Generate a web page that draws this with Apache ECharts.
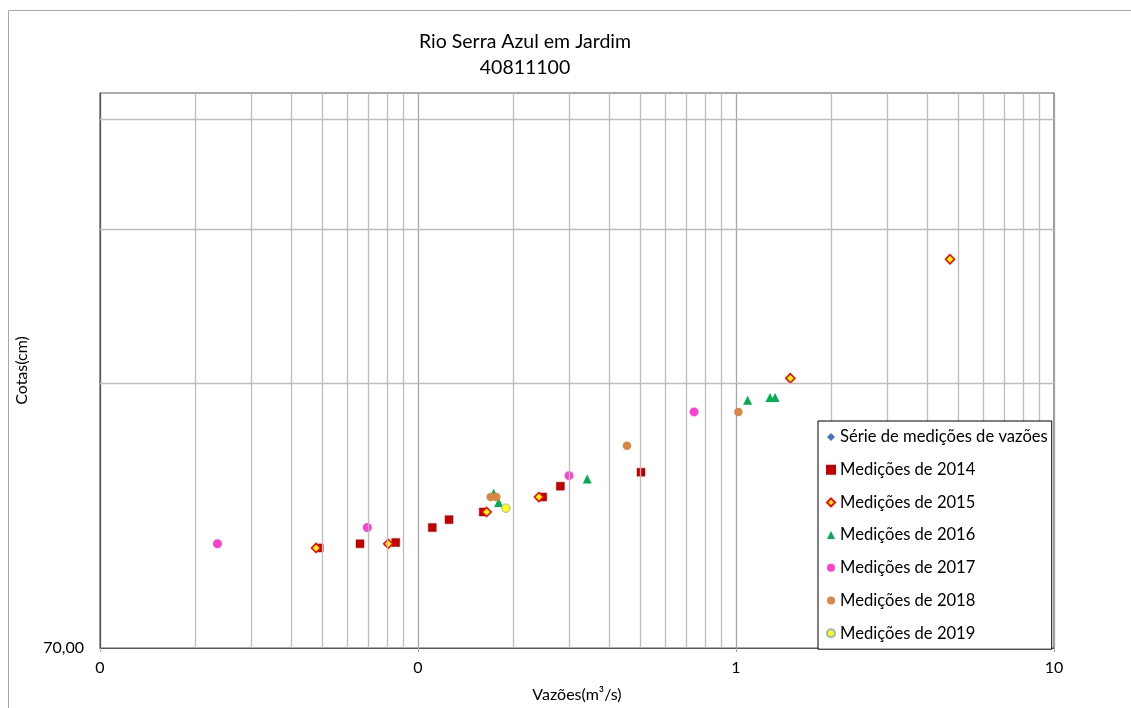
<!DOCTYPE html>
<html>
<head>
<meta charset="utf-8">
<script src="https://cdn.jsdelivr.net/npm/echarts@6/dist/echarts.min.js"></script>
<style>html,body{margin:0;padding:0;background:#fff;overflow:hidden;}#c{width:1131px;height:708px;}</style>
</head>
<body>
<div id="c"></div>
<script>
const titleLines = ['Rio Serra Azul em Jardim', '40811100'];
const xName = 'Vazões(m³/s)';
const yName = 'Cotas(cm)';
const xMin = 0.01, xMax = 10;
const yMin = 70, yMax = 300;
const xMinorGrid = [0.02,0.03,0.04,0.05,0.06,0.07,0.08,0.09,0.2,0.3,0.4,0.5,0.6,0.7,0.8,0.9,2,3,4,5,6,7,8,9];
const yGrid = [140, 210, 280];

const seriesNames = ['Série de medições de vazões','Medições de 2014','Medições de 2015','Medições de 2016','Medições de 2017','Medições de 2018','Medições de 2019'];
const sSerie = [];
const s2014 = [[0.0489,91],[0.0657,92],[0.0851,92.3],[0.1109,96],[0.1252,98],[0.1604,100],[0.2467,104],[0.2803,107],[0.5027,111]];
const s2015 = [[0.0478,91],[0.0806,92],[0.1644,100],[0.240,104],[1.482,142],[4.71,194]];
const s2016 = [[0.173,105],[0.1794,102.5],[0.3406,109],[1.088,134],[1.279,135],[1.327,135]];
const s2017 = [[0.0234,92],[0.0693,96],[0.2985,110],[0.738,130]];
const s2018 = [[0.1693,104],[0.1763,104],[0.4542,119],[1.017,130]];
const s2019 = [[0.189,101]];

const FONT = 'Lato, "Noto Sans", sans-serif';
const chart = echarts.init(document.getElementById('c'), null, {renderer: 'canvas'});

function sc(name, data, symbol, size, color, border, bw) {
  return {
    name: name, type: 'scatter', data: data, symbol: symbol, symbolSize: size,
    itemStyle: {color: color, borderColor: border || color, borderWidth: bw || 0, opacity: 1},
    emphasis: {disabled: true}, z: 3
  };
}

const gridLineStyle = {color: '#bdbdbd', width: 1.3, type: 'solid'};

const option = {
  animation: false,
  backgroundColor: '#fff',
  textStyle: {fontFamily: FONT},
  graphic: [
    {type: 'rect', shape: {x: 8.5, y: 10.5, width: 1300, height: 900}, style: {fill: 'none', stroke: '#a6a6a6', lineWidth: 1}, z: -10, silent: true},
    {type: 'text', x: 525, y: 42, style: {text: titleLines[0], font: '19.5px ' + FONT, fill: '#000', align: 'center', verticalAlign: 'middle'}},
    {type: 'text', x: 525, y: 68, style: {text: titleLines[1], font: '19.5px ' + FONT, fill: '#000', align: 'center', verticalAlign: 'middle'}}
  ],
  grid: {left: 100, top: 93, right: 77, bottom: 58, show: true, borderColor: '#595959', borderWidth: 1.2, backgroundColor: 'transparent'},
  legend: {
    orient: 'vertical', left: 818, top: 421, z: 20,
    data: seriesNames,
    itemWidth: 8, itemHeight: 8, itemGap: 14.7,
    padding: [7, 4, 7, 8],
    borderColor: '#000', borderWidth: 1, backgroundColor: '#fff',
    textStyle: {fontFamily: FONT, fontSize: 16.6, color: '#000', lineHeight: 18},
    selectedMode: false
  },
  xAxis: {
    type: 'log', logBase: 10, min: xMin, max: xMax,
    name: xName, nameLocation: 'middle', nameGap: 39,
    nameTextStyle: {fontFamily: FONT, fontSize: 16, color: '#000'},
    axisLine: {show: true, lineStyle: {color: '#595959', width: 1.2}},
    axisTick: {show: true, length: 4, lineStyle: {color: '#a6a6a6'}},
    axisLabel: {fontFamily: FONT, fontSize: 16, color: '#000', margin: 12, formatter: v => String(Math.round(v))},
    splitLine: {show: true, lineStyle: {color: '#a6a6a6', width: 1.3}},
    minorTick: {show: false}, minorSplitLine: {show: false}
  },
  yAxis: {
    type: 'log', logBase: 10, min: yMin, max: yMax,
    name: yName, nameLocation: 'middle', nameGap: 70,
    nameTextStyle: {fontFamily: FONT, fontSize: 16, color: '#000'},
    axisLine: {show: true, lineStyle: {color: '#595959', width: 1.2}},
    axisTick: {show: false},
    axisLabel: {fontFamily: FONT, fontSize: 16, color: '#000', margin: 16, formatter: v => (Math.abs(v - yMin) < 0.01 ? '70,00' : ''), showMinLabel: true},
    splitLine: {show: false}
  },
  series: [
    {
      name: '_grid', type: 'scatter', data: [], silent: true, z: 1,
      markLine: {
        silent: true, symbol: 'none', animation: false,
        label: {show: false}, lineStyle: gridLineStyle, emphasis: {disabled: true},
        data: xMinorGrid.map(v => ({xAxis: v})).concat(yGrid.map(v => ({yAxis: v})))
      }
    },
    sc(seriesNames[0], sSerie, 'diamond', 9, '#4472C4'),
    sc(seriesNames[1], s2014, 'rect', 8, '#C00000', '#C00000', 0.5),
    sc(seriesNames[2], s2015, 'diamond', 9, '#FFFF00', '#FF0000', 1.6),
    sc(seriesNames[3], s2016, 'triangle', 9, '#00B050'),
    sc(seriesNames[4], s2017, 'circle', 9, '#FF3FCF'),
    sc(seriesNames[5], s2018, 'circle', 8.5, '#DD8542'),
    sc(seriesNames[6], s2019, 'circle', 8.5, '#FFFF00', '#9DB3D8', 1)
  ]
};
chart.setOption(option);
</script>
</body>
</html>
